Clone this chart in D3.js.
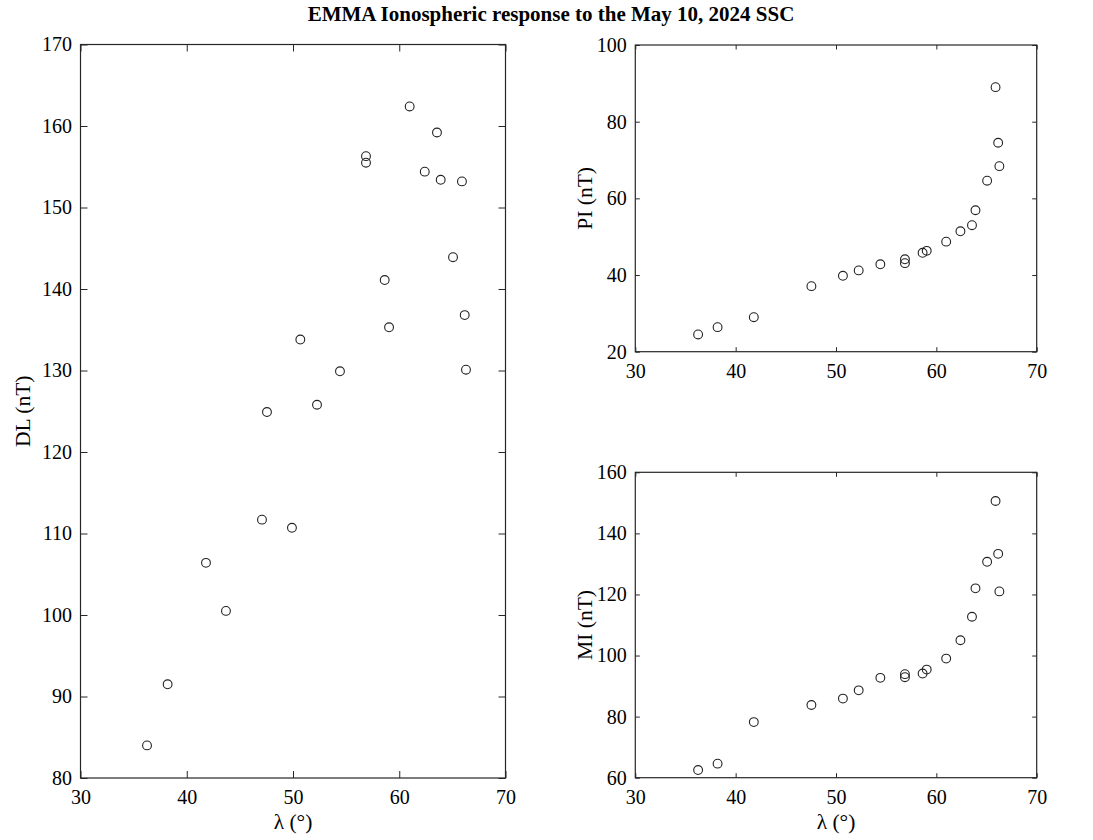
<!DOCTYPE html>
<html>
<head>
<meta charset="utf-8">
<script src="https://cdn.jsdelivr.net/npm/d3@7"></script>
<style>
  html, body { margin: 0; padding: 0; background: #fff; }
  svg { display: block; font-family: "Liberation Serif", "Times New Roman", serif; }
</style>
</head>
<body>
<svg id="chart" width="1093" height="840"></svg>
<script>
// Geomagnetic latitude (deg) of each EMMA station and the DL amplitude (nT)
const latDL = [36.26, 38.20, 41.81, 43.69, 47.08, 49.90, 47.55, 52.26, 60.98, 63.55, 56.87,
               56.87, 62.40, 63.90, 65.90, 65.06, 58.63, 66.16, 59.04, 50.69, 54.42, 66.28];
const valDL = [84.0, 91.5, 106.4, 100.5, 111.7, 110.7, 124.9, 125.8, 162.4, 159.2, 156.3,
               155.5, 154.4, 153.4, 153.2, 143.9, 141.1, 136.8, 135.3, 133.8, 129.9, 130.1];

// Stations used for the PI / MI amplitudes
const latPM = [36.26, 38.20, 41.81, 47.55, 50.69, 52.26, 54.42, 56.87, 56.87, 58.63,
               59.04, 60.98, 62.40, 63.55, 63.90, 65.06, 65.90, 66.16, 66.28];
const valPI = [24.5, 26.4, 29.0, 37.1, 39.8, 41.2, 42.8, 44.1, 43.1, 45.8,
               46.3, 48.7, 51.4, 53.0, 56.9, 64.6, 89.0, 74.5, 68.4];
const valMI = [62.5, 64.6, 78.2, 83.8, 85.9, 88.6, 92.7, 93.9, 92.9, 94.1,
               95.4, 99.0, 105.0, 112.7, 122.0, 130.7, 150.6, 133.3, 121.0];

const xTicks = [30, 40, 50, 60, 70];
const dlTicks = [80, 90, 100, 110, 120, 130, 140, 150, 160, 170];
const piTicks = [20, 40, 60, 80, 100];
const miTicks = [60, 80, 100, 120, 140, 160];

const titleText = "EMMA Ionospheric response to the May 10, 2024 SSC";
const xLabel = "\u03bb (\u00b0)";

const svg = d3.select("#chart");
const axisColor = "#262626";
const tickFont = 20;
const labelFont = 21.5;

svg.append("text")
  .attr("x", 551).attr("y", 21)
  .attr("text-anchor", "middle")
  .attr("font-weight", "bold")
  .attr("font-size", 21)
  .attr("fill", "#000")
  .text(titleText);

function panel(opts) {
  const { left, right, top, bottom, xDomain, yDomain, yTicks, xs, ys, yLabel, showXLabel, tickLen } = opts;
  const x = d3.scaleLinear().domain(xDomain).range([left, right]);
  const y = d3.scaleLinear().domain(yDomain).range([bottom, top]);
  const g = svg.append("g");

  const styleAxis = sel => {
    sel.select(".domain").remove();
    sel.selectAll("line").attr("stroke", axisColor).attr("stroke-width", 1);
    sel.selectAll("text").attr("fill", "#000").attr("font-size", tickFont)
      .attr("font-family", "Liberation Serif, serif");
  };

  // bottom and left axes with labels, ticks pointing inward
  g.append("g").attr("transform", `translate(0,${bottom})`)
    .call(d3.axisBottom(x).tickValues(xTicks).tickSizeInner(-tickLen).tickSizeOuter(0).tickPadding(12).tickFormat(d3.format("d")))
    .call(styleAxis);
  g.append("g").attr("transform", `translate(${left},0)`)
    .call(d3.axisLeft(y).tickValues(yTicks).tickSizeInner(-tickLen).tickSizeOuter(0).tickPadding(8.5).tickFormat(d3.format("d")))
    .call(styleAxis);
  // mirrored ticks on the top and right edges
  g.append("g").attr("transform", `translate(0,${top})`)
    .call(d3.axisTop(x).tickValues(xTicks).tickSizeInner(-tickLen).tickSizeOuter(0).tickFormat(""))
    .call(styleAxis);
  g.append("g").attr("transform", `translate(${right},0)`)
    .call(d3.axisRight(y).tickValues(yTicks).tickSizeInner(-tickLen).tickSizeOuter(0).tickFormat(""))
    .call(styleAxis);

  // frame
  g.append("rect")
    .attr("x", left).attr("y", top)
    .attr("width", right - left).attr("height", bottom - top)
    .attr("fill", "none").attr("stroke", axisColor).attr("stroke-width", 1.2);

  // station markers
  g.append("g").selectAll("circle")
    .data(xs.map((d, i) => [d, ys[i]]))
    .join("circle")
    .attr("cx", d => x(d[0]))
    .attr("cy", d => y(d[1]))
    .attr("r", 4.4)
    .attr("fill", "none")
    .attr("stroke", "#222")
    .attr("stroke-width", 1.1);

  // y label
  const cy = (top + bottom) / 2;
  const lx = opts.yLabelX;
  g.append("text")
    .attr("transform", `translate(${lx},${cy}) rotate(-90)`)
    .attr("text-anchor", "middle")
    .attr("font-size", labelFont)
    .attr("fill", "#000")
    .text(yLabel);

  if (showXLabel) {
    g.append("text")
      .attr("x", (left + right) / 2).attr("y", bottom + 51)
      .attr("text-anchor", "middle")
      .attr("font-size", labelFont)
      .attr("fill", "#000")
      .text(xLabel);
  }
}

panel({
  left: 80.5, right: 505.5, top: 44.5, bottom: 778,
  xDomain: [30, 70], yDomain: [80, 170], yTicks: dlTicks,
  xs: latDL, ys: valDL, yLabel: "DL (nT)", yLabelX: 30, showXLabel: true, tickLen: 7
});

panel({
  left: 635.3, right: 1036.7, top: 45, bottom: 351.7,
  xDomain: [30, 70], yDomain: [20, 100], yTicks: piTicks,
  xs: latPM, ys: valPI, yLabel: "PI (nT)", yLabelX: 592, showXLabel: false, tickLen: 4.5
});

panel({
  left: 635.3, right: 1036.7, top: 472.3, bottom: 777.7,
  xDomain: [30, 70], yDomain: [60, 160], yTicks: miTicks,
  xs: latPM, ys: valMI, yLabel: "MI (nT)", yLabelX: 592, showXLabel: true, tickLen: 4.5
});
</script>
</body>
</html>
